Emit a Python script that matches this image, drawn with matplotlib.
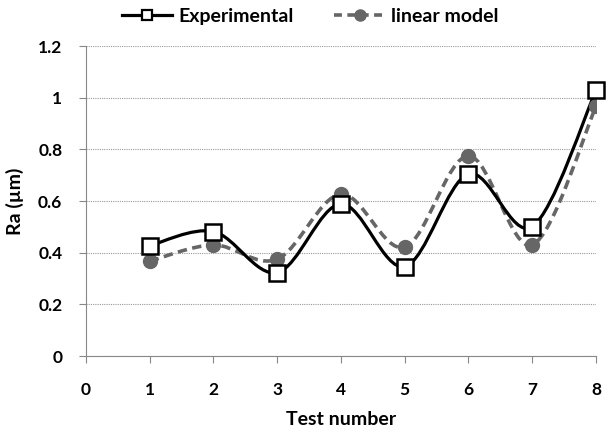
import numpy as np
import matplotlib.pyplot as plt
from matplotlib.path import Path
from matplotlib.patches import PathPatch

# donnees
test_number = [1, 2, 3, 4, 5, 6, 7, 8]
ra_experimental = [0.427, 0.482, 0.323, 0.589, 0.346, 0.705, 0.501, 1.028]
ra_linear_model = [0.367, 0.430, 0.375, 0.627, 0.421, 0.775, 0.430, 0.966]


def smooth_path(x, y):
    # courbe lissee facon Excel (bezier cubique a travers les points)
    x = np.asarray(x, float)
    y = np.asarray(y, float)
    verts = [(x[0], y[0])]
    codes = [Path.MOVETO]
    n = len(x)
    for i in range(n - 1):
        x0, y0 = (x[i - 1], y[i - 1]) if i > 0 else (x[i], y[i])
        x3, y3 = (x[i + 2], y[i + 2]) if i + 2 < n else (x[i + 1], y[i + 1])
        c1 = (x[i] + (x[i + 1] - x0) / 6, y[i] + (y[i + 1] - y0) / 6)
        c2 = (x[i + 1] - (x3 - x[i]) / 6, y[i + 1] - (y3 - y[i]) / 6)
        verts += [c1, c2, (x[i + 1], y[i + 1])]
        codes += [Path.CURVE4] * 3
    return Path(verts, codes)


plt.rcParams['font.family'] = ['Lato', 'DejaVu Sans']
plt.rcParams['font.weight'] = 'bold'
plt.rcParams['axes.labelweight'] = 'bold'

fig = plt.figure(figsize=(6.08, 4.30), dpi=100)
ax = fig.add_axes([0.1414, 0.172, 0.8388, 0.721])

ax.add_patch(PathPatch(smooth_path(test_number, ra_linear_model), fill=False,
                       edgecolor='#666666', lw=2.6, ls=(0, (2.6, 1.5)), zorder=3))
ax.add_patch(PathPatch(smooth_path(test_number, ra_experimental), fill=False,
                       edgecolor='black', lw=2.3, zorder=4))

ax.plot(test_number, ra_linear_model, 'o', color='#666666', ms=10, zorder=5)
ax.plot(test_number, ra_experimental, 's', mfc='white', mec='black', mew=1.8,
        ms=11, zorder=6, clip_on=False)

# proxies pour la legende
h1, = ax.plot([], [], '-s', color='black', lw=2.3, mfc='white', mec='black',
              mew=1.6, ms=7.5)
h2, = ax.plot([], [], '--o', color='#666666', lw=2.6, ms=8, dashes=(2.2, 1.5))
fig.legend([h1, h2], ['Experimental', 'linear model'], loc='center',
           bbox_to_anchor=(0.51, 0.962), ncol=2, frameon=False,
           prop={'size': 14, 'weight': 'bold'}, handlelength=2.6,
           columnspacing=2.1, handletextpad=0.3)

ax.set_xlim(0, 8)
ax.set_ylim(0, 1.2)
ax.set_xticks(range(0, 9))
ax.set_yticks([0, 0.2, 0.4, 0.6, 0.8, 1, 1.2])
ax.set_yticklabels(['0', '0.2', '0.4', '0.6', '0.8', '1', '1.2'])
ax.yaxis.grid(True, color='#999999', ls=(0, (1, 1)), lw=0.8)
ax.set_axisbelow(True)
for s in ['top', 'right']:
    ax.spines[s].set_visible(False)
for s in ['left', 'bottom']:
    ax.spines[s].set_color('#888888')
ax.tick_params(colors='#888888', labelcolor='black', labelsize=12.5,
               length=5, direction='out')
ax.tick_params(axis='x', pad=14)
ax.tick_params(axis='y', pad=12)
ax.set_xlabel('Test number', fontsize=14, labelpad=9)
ax.set_ylabel('Ra (µm)', fontsize=14, labelpad=10)

plt.savefig('out.png', dpi=100)
